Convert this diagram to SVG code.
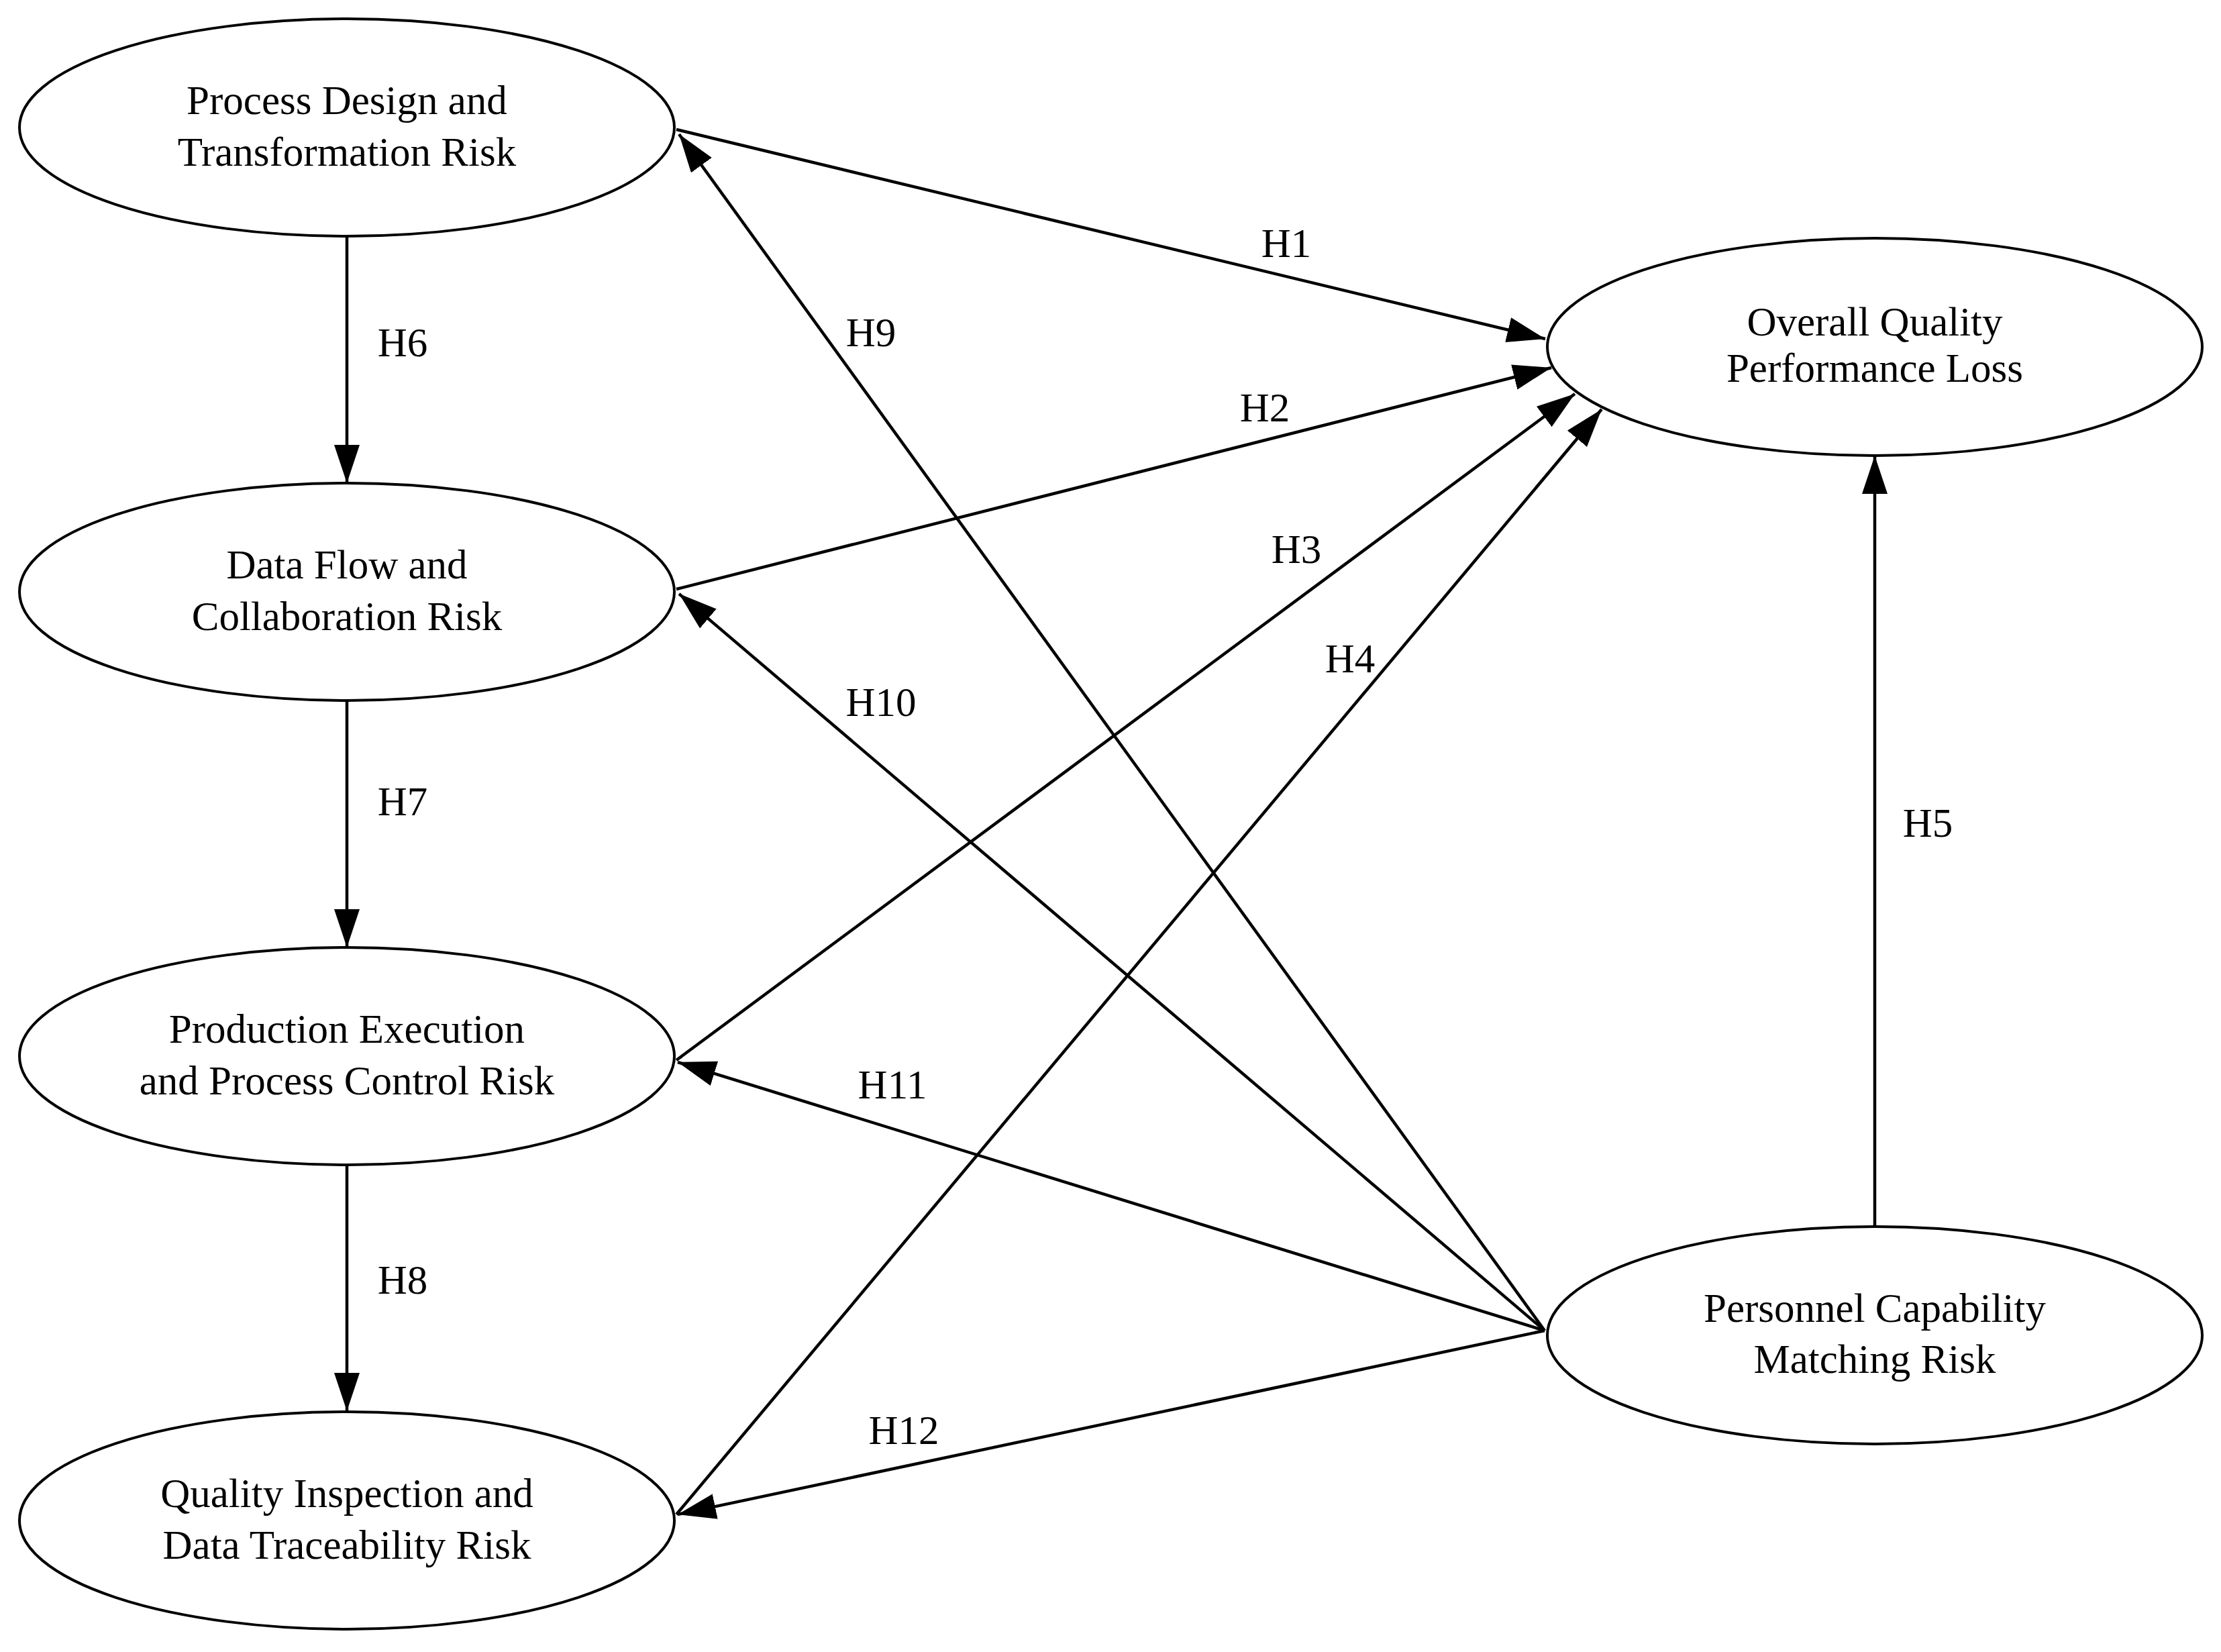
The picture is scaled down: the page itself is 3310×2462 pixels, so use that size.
<svg xmlns="http://www.w3.org/2000/svg" width="3310" height="2462" viewBox="0 0 3310 2462">
  <style>
    .node ellipse { fill: #ffffff; stroke: #000000; stroke-width: 4; }
    .node text, .lbl { font-family: "Liberation Serif", "DejaVu Serif", serif; font-size: 61px; fill: #000000; text-anchor: middle; }
    .edge { stroke: #000000; stroke-width: 4.5; fill: none; marker-end: url(#head); }
  </style>
  <defs>
    <marker id="head" markerUnits="userSpaceOnUse" markerWidth="60" markerHeight="40" refX="57" refY="19" orient="auto">
      <path d="M0,0 L57,19 L0,38 Z" fill="#000000"/>
    </marker>
  </defs>
  <rect width="3310" height="2462" fill="#ffffff"/>

  <!-- connectors -->
  <g id="connectors">
    <line class="edge" x1="1008" y1="193" x2="2303" y2="505"/>
    <line class="edge" x1="1008" y1="878" x2="2312" y2="548"/>
    <line class="edge" x1="1008" y1="1580" x2="2347" y2="587"/>
    <line class="edge" x1="1008" y1="2257" x2="2387" y2="610"/>
    <line class="edge" x1="2794" y1="1827" x2="2794" y2="679"/>
    <line class="edge" x1="517" y1="353" x2="517" y2="720"/>
    <line class="edge" x1="517" y1="1045" x2="517" y2="1412"/>
    <line class="edge" x1="517" y1="1737" x2="517" y2="2103"/>
    <line class="edge" x1="2302" y1="1983" x2="1012" y2="200"/>
    <line class="edge" x1="2302" y1="1983" x2="1012" y2="885"/>
    <line class="edge" x1="2302" y1="1983" x2="1010" y2="1583"/>
    <line class="edge" x1="2302" y1="1983" x2="1010" y2="2257"/>
    <g id="edge-labels">
      <text class="lbl" x="1917" y="383">H1</text>
      <text class="lbl" x="1885" y="628">H2</text>
      <text class="lbl" x="1932" y="839">H3</text>
      <text class="lbl" x="2012" y="1002">H4</text>
      <text class="lbl" x="2873" y="1247">H5</text>
      <text class="lbl" x="600" y="531">H6</text>
      <text class="lbl" x="600" y="1215">H7</text>
      <text class="lbl" x="600" y="1928">H8</text>
      <text class="lbl" x="1298" y="516">H9</text>
      <text class="lbl" x="1313" y="1067">H10</text>
      <text class="lbl" x="1330" y="1637">H11</text>
      <text class="lbl" x="1347" y="2152">H12</text>
    </g>
  </g>

  <!-- nodes -->
  <g id="process-design" class="node">
    <ellipse cx="517" cy="190" rx="488" ry="162"/>
    <text x="517" y="170">Process Design and</text>
    <text x="517" y="247">Transformation Risk</text>
  </g>
  <g id="data-flow" class="node">
    <ellipse cx="517" cy="882" rx="488" ry="162"/>
    <text x="517" y="862">Data Flow and</text>
    <text x="517" y="939">Collaboration Risk</text>
  </g>
  <g id="production-execution" class="node">
    <ellipse cx="517" cy="1574" rx="488" ry="162"/>
    <text x="517" y="1554">Production Execution</text>
    <text x="517" y="1631">and Process Control Risk</text>
  </g>
  <g id="quality-inspection" class="node">
    <ellipse cx="517" cy="2266" rx="488" ry="162"/>
    <text x="517" y="2246">Quality Inspection and</text>
    <text x="517" y="2323">Data Traceability Risk</text>
  </g>
  <g id="overall-quality" class="node">
    <ellipse cx="2794" cy="517" rx="488" ry="162"/>
    <text x="2794" y="500">Overall Quality</text>
    <text x="2794" y="569">Performance Loss</text>
  </g>
  <g id="personnel-capability" class="node">
    <ellipse cx="2794" cy="1990" rx="488" ry="162"/>
    <text x="2794" y="1970">Personnel Capability</text>
    <text x="2794" y="2046">Matching Risk</text>
  </g>
</svg>
